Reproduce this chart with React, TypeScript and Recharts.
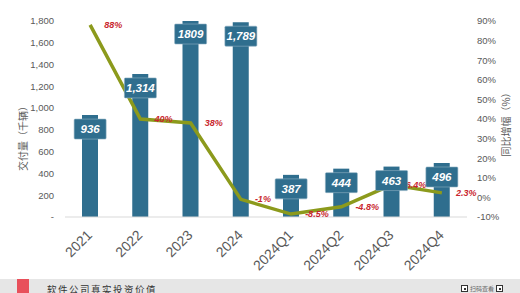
import React from "react";
import {
  ComposedChart,
  Bar,
  Line,
  XAxis,
  YAxis,
  LabelList,
} from "recharts";

const periods = ["2021", "2022", "2023", "2024", "2024Q1", "2024Q2", "2024Q3", "2024Q4"];
const volume = [936, 1314, 1809, 1789, 387, 444, 463, 496];
const volumeLabels = ["936", "1,314", "1809", "1,789", "387", "444", "463", "496"];
const yoy = [88, 40, 38, -1, -8.5, -4.8, 6.4, 2.3];
const leftTicks = [0, 200, 400, 600, 800, 1000, 1200, 1400, 1600, 1800];
const rightTicks = [-10, 0, 10, 20, 30, 40, 50, 60, 70, 80, 90];

const BAR_COLOR = "#2F6E8E";
const LINE_COLOR = "#8C9A1C";
const RED = "#C9262E";
const AXIS_TEXT = "#595959";
const FONT = "'Liberation Sans', Arial, sans-serif";
const CJK = "'Noto Sans CJK SC', sans-serif";

const data = periods.map((p, i) => ({
  period: p,
  volume: volume[i],
  yoy: yoy[i],
}));

function PeriodTick({ x, y, payload }: any) {
  const ax = x + 3;
  const ay = y + 17;
  return (
    <text
      x={ax}
      y={ay}
      transform={`rotate(-45, ${ax}, ${ay})`}
      textAnchor="end"
      fontSize={14}
      fontFamily={FONT}
      fill={AXIS_TEXT}
    >
      {payload.value}
    </text>
  );
}

function VolumeBox({ x, y, index }: any) {
  const w = 32;
  const h = 20;
  return (
    <g>
      <rect
        x={x - w / 2}
        y={y + 4}
        width={w}
        height={h}
        rx={1}
        fill={BAR_COLOR}
        stroke="#8fb0c2"
        strokeWidth={0.6}
      />
      <text
        x={x}
        y={y + 18}
        textAnchor="middle"
        fontSize={11.5}
        fontWeight="bold"
        fontStyle="italic"
        fontFamily={FONT}
        fill="#fff"
      >
        {volumeLabels[index]}
      </text>
    </g>
  );
}

function YoyLabel({ x, y, value }: any) {
  return (
    <text
      x={x + 14}
      y={y + 3}
      fontSize={9}
      fontWeight="bold"
      fontStyle="italic"
      fontFamily={FONT}
      fill={RED}
    >
      {`${value}%`}
    </text>
  );
}

function QrMark() {
  return (
    <div
      style={{
        width: 7,
        height: 7,
        boxSizing: "border-box",
        border: "1.5px solid #333",
        background: "#fff",
        display: "flex",
        alignItems: "center",
        justifyContent: "center",
      }}
    >
      <div style={{ width: 2, height: 2, background: "#333" }} />
    </div>
  );
}

export default function App() {
  return (
    <div
      style={{
        position: "absolute",
        left: 0,
        top: 0,
        width: 520,
        height: 293,
        background: "#fff",
        overflow: "hidden",
        fontFamily: FONT,
      }}
    >
      <ComposedChart
        width={520}
        height={278}
        data={data}
        margin={{ top: 21, right: 0, left: 0, bottom: 0 }}
      >
        <XAxis
          dataKey="period"
          height={61}
          interval={0}
          tickLine={false}
          tickSize={0}
          axisLine={{ stroke: "#d9d9d9" }}
          tick={<PeriodTick />}
        />
        <YAxis
          yAxisId="left"
          width={65}
          domain={[0, 1800]}
          ticks={leftTicks}
          allowDataOverflow
          axisLine={false}
          tickLine={false}
          tickSize={0}
          tickMargin={11}
          tick={{ fontSize: 9.5, fill: AXIS_TEXT, fontFamily: FONT }}
          tickFormatter={(v: number) => (v === 0 ? "-" : v.toLocaleString("en-US"))}
        />
        <YAxis
          yAxisId="right"
          orientation="right"
          width={53}
          domain={[-10, 90]}
          ticks={rightTicks}
          axisLine={false}
          tickLine={false}
          tickSize={0}
          tickMargin={10}
          tick={{ fontSize: 9.5, fill: AXIS_TEXT, fontFamily: FONT }}
          tickFormatter={(v: number) => `${v}%`}
        />
        <Bar
          dataKey="volume"
          yAxisId="left"
          barSize={16}
          fill={BAR_COLOR}
          isAnimationActive={false}
        />
        <Line
          dataKey="yoy"
          yAxisId="right"
          stroke={LINE_COLOR}
          strokeWidth={3.5}
          dot={false}
          activeDot={false}
          isAnimationActive={false}
        >
          <LabelList dataKey="yoy" content={<YoyLabel />} />
        </Line>
        {/* invisible series on the bar tops, only to draw the value boxes above the line */}
        <Line
          dataKey="volume"
          yAxisId="left"
          stroke="none"
          dot={false}
          activeDot={false}
          isAnimationActive={false}
        >
          <LabelList dataKey="volume" content={<VolumeBox />} />
        </Line>
      </ComposedChart>

      <div
        style={{
          position: "absolute",
          left: 22,
          top: 136,
          transform: "translate(-50%, -50%) rotate(-90deg)",
          whiteSpace: "nowrap",
          fontSize: 10,
          fontFamily: CJK,
          color: AXIS_TEXT,
        }}
      >
        交付量（千辆）
      </div>
      <div
        style={{
          position: "absolute",
          left: 505,
          top: 122,
          transform: "translate(-50%, -50%) rotate(-90deg)",
          whiteSpace: "nowrap",
          fontSize: 10,
          fontFamily: CJK,
          color: AXIS_TEXT,
        }}
      >
        同比增幅（%）
      </div>

      {/* footer band */}
      <div
        style={{
          position: "absolute",
          left: 0,
          top: 279,
          width: 520,
          height: 14,
          background: "#e6e6e6",
        }}
      />
      <div
        style={{
          position: "absolute",
          left: 17,
          top: 279,
          width: 12,
          height: 14,
          background: "#E8505B",
        }}
      />
      <div
        style={{
          position: "absolute",
          left: 47,
          top: 285,
          fontSize: 9.5,
          lineHeight: 1,
          letterSpacing: 1.5,
          fontFamily: CJK,
          color: "#333",
          whiteSpace: "nowrap",
        }}
      >
        软件公司真实投资价值
      </div>
      <div
        style={{
          position: "absolute",
          left: 461,
          top: 285,
          display: "flex",
          alignItems: "center",
          gap: 2,
        }}
      >
        <QrMark />
        <div style={{ fontSize: 6, lineHeight: 1, color: "#666", fontFamily: CJK }}>
          扫码查看
        </div>
        <QrMark />
      </div>
    </div>
  );
}
